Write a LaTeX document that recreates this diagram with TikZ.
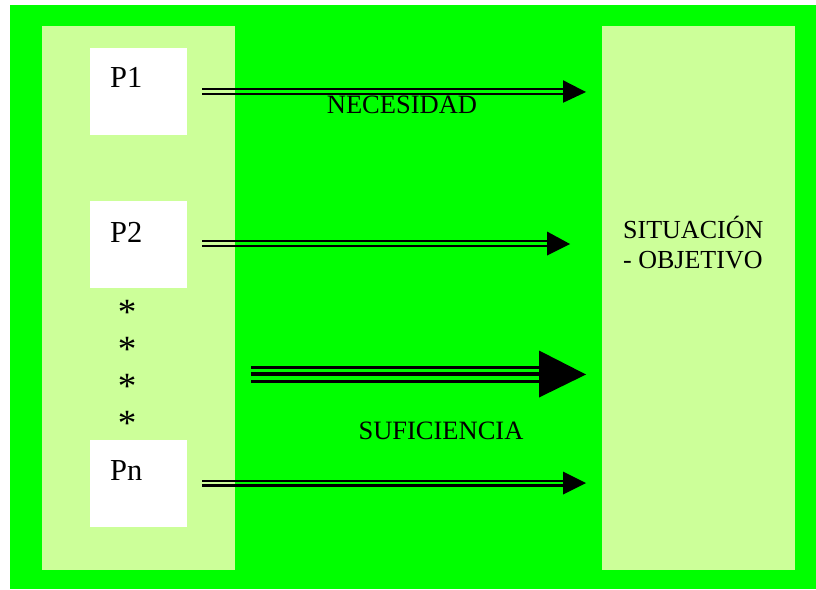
\documentclass[tikz,border=0pt]{standalone}
\usepackage{fontspec}
\setmainfont{Liberation Serif}
\definecolor{bggreen}{RGB}{0,255,0}
\definecolor{panelgreen}{RGB}{204,255,153}
\tikzset{
  panel/.style={fill=panelgreen, draw=none},
  pbox/.style={fill=white, draw=none},
  arrline/.style={draw=black, line width=2.2pt},
  bigline/.style={draw=black, line width=3pt},
  plabel/.style={inner sep=0pt, font=\fontsize{30.5}{34}\selectfont},
  lbl/.style={inner sep=0pt, font=\fontsize{26.5}{30}\selectfont},
  star/.style={inner sep=0pt, font=\fontsize{37}{40}\selectfont},
}
\begin{document}
\begin{tikzpicture}[x=1pt,y=-1pt]
\useasboundingbox (0,0) rectangle (816,589);
\fill[bggreen] (10,5) rectangle (816,589);
% panels
\path[panel] (42,26) rectangle (235,570);
\path[panel] (602,26) rectangle (795,570);
\node[pbox, minimum width=97pt, minimum height=87pt, anchor=north west] (p1) at (90,48) {};
\node[pbox, minimum width=97pt, minimum height=87pt, anchor=north west] (p2) at (90,201) {};
\node[pbox, minimum width=97pt, minimum height=87pt, anchor=north west] (pn) at (90,440) {};
\node[plabel, anchor=base west] (t1) at (110,87) {P1};
\node[plabel, anchor=base west] (t2) at (110,242) {P2};
\node[plabel, anchor=base west] (tn) at (110,480) {Pn};
% asterisks
\node[star, anchor=base] (s1) at (127,324) {*};
\node[star, anchor=base] (s2) at (127,361) {*};
\node[star, anchor=base] (s3) at (127,398) {*};
\node[star, anchor=base] (s4) at (127,435) {*};
% target text
\node[lbl, anchor=base west, font=\fontsize{26}{30}\selectfont] (sit1) at (623,238) {SITUACIÓN};
\node[lbl, anchor=base west, font=\fontsize{26}{30}\selectfont] (sit2) at (623,268) {- OBJETIVO};
% arrow coordinates
\coordinate (a1s) at (202,91.5); \coordinate (a1b) at (563,91.5); \coordinate (a1e) at (586,92);
\coordinate (a2s) at (202,243.5); \coordinate (a2b) at (547,243.5); \coordinate (a2e) at (570,244);
\coordinate (a3s) at (251,374); \coordinate (a3b) at (539,374); \coordinate (a3e) at (586,374.5);
\coordinate (a4s) at (202,483); \coordinate (a4b) at (563,483); \coordinate (a4e) at (586,483);
% arrow 1
\draw[arrline] ([yshift=2.2pt]a1s) -- ([yshift=2.2pt]a1b);
\draw[arrline] ([yshift=-2.2pt]a1s) -- ([yshift=-2.2pt]a1b);
\fill ([yshift=11.3pt]a1b) -- (a1e) -- ([yshift=-11.3pt]a1b) -- cycle;
% arrow 2
\draw[arrline] ([yshift=2.4pt]a2s) -- ([yshift=2.4pt]a2b);
\draw[arrline] ([yshift=-2.4pt]a2s) -- ([yshift=-2.4pt]a2b);
\fill ([yshift=12pt]a2b) -- (a2e) -- ([yshift=-12pt]a2b) -- cycle;
% arrow 3 (big)
\draw[bigline] ([yshift=7pt]a3s) -- ([yshift=7pt]a3b);
\draw[bigline, line width=4.5pt] (a3s) -- (a3b);
\draw[bigline] ([yshift=-7pt]a3s) -- ([yshift=-7pt]a3b);
\fill ([yshift=23.5pt]a3b) -- (a3e) -- ([yshift=-23.5pt]a3b) -- cycle;
% arrow 4
\draw[arrline] ([yshift=2.4pt]a4s) -- ([yshift=2.4pt]a4b);
\draw[arrline] ([yshift=-2.4pt]a4s) -- ([yshift=-2.4pt]a4b);
\fill ([yshift=11.5pt]a4b) -- (a4e) -- ([yshift=-11.5pt]a4b) -- cycle;
% labels
\node[lbl, anchor=base] (nec) at (402,113) {NECESIDAD};
\node[lbl, anchor=base] (suf) at (441,439) {SUFICIENCIA};
\end{tikzpicture}
\end{document}
